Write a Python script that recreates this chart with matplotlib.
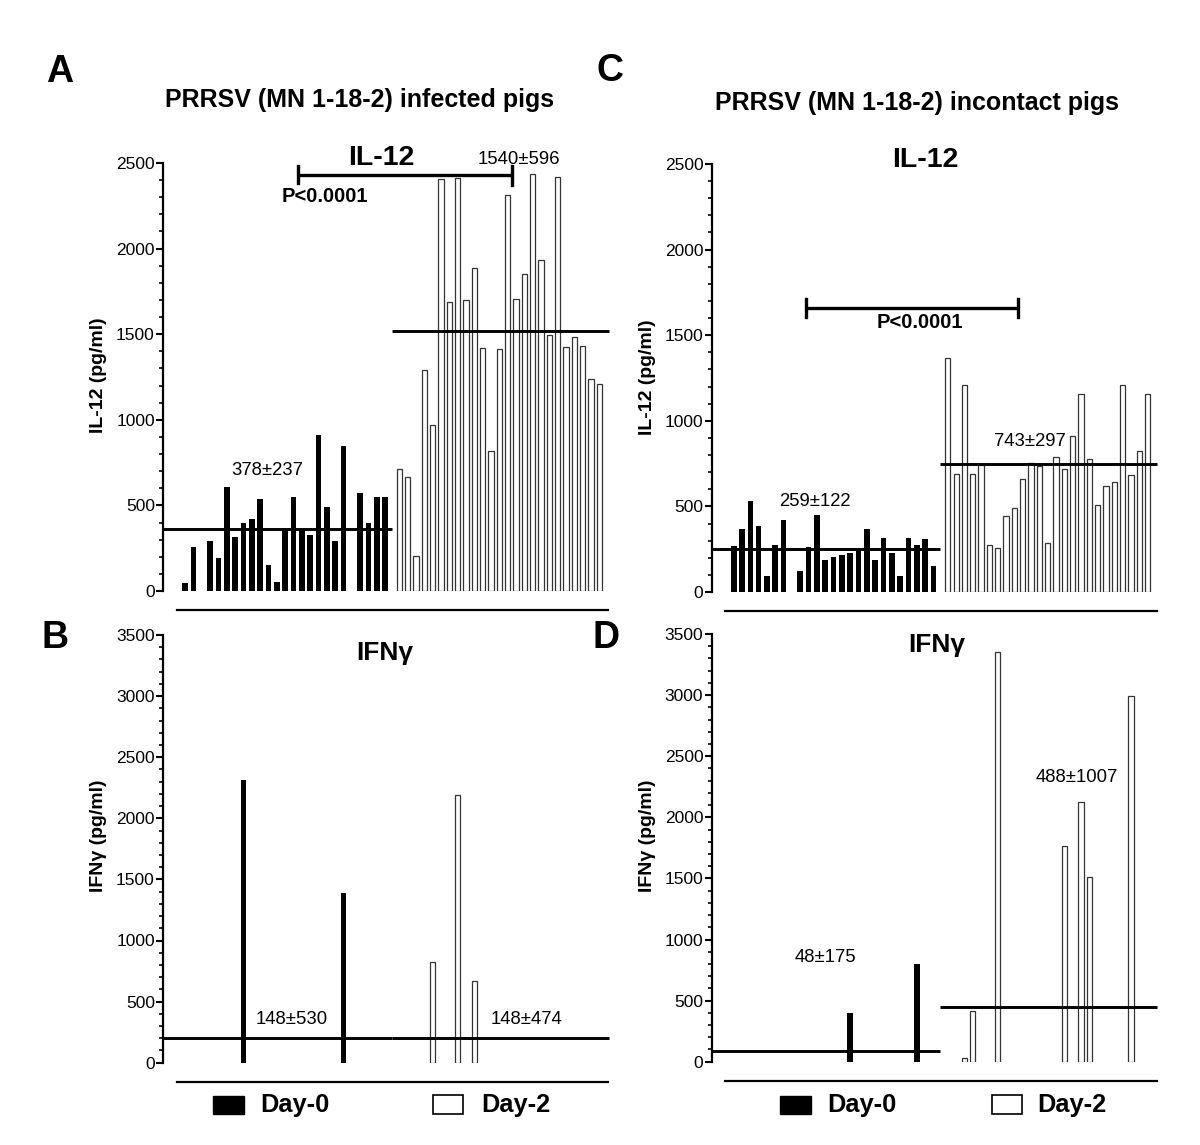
import numpy as np
import matplotlib
matplotlib.use("Agg")
import matplotlib.pyplot as plt
from matplotlib.ticker import MultipleLocator
from matplotlib.patches import Rectangle

plt.rcParams['font.family'] = ['Liberation Sans', 'DejaVu Sans']

# values (pg/ml), one entry per pig, 0 = no bar
il12_inf_d0 = [49, 259, 0, 294, 191, 610, 318, 399, 421, 536, 150, 51, 360,
               547, 360, 327, 912, 493, 294, 849, 0, 573, 396, 547, 547]
il12_inf_d2 = [711, 668, 205, 1292, 968, 2406, 1691, 2414, 1697, 1886, 1418, 816,
               1412, 2312, 1707, 1851, 2437, 1931, 1496, 2418, 1424, 1481, 1432,
               1239, 1208]
il12_inc_d0 = [269, 369, 533, 384, 92, 277, 421, 0, 123, 265, 449, 189, 203,
               215, 230, 248, 369, 185, 318, 230, 96, 314, 277, 310, 150]
il12_inc_d2 = [1364, 691, 1210, 687, 740, 273, 256, 445, 490, 658, 755, 736, 287,
               788, 716, 913, 1159, 779, 509, 622, 644, 1210, 681, 825, 1159]
ifn_inf_d0 = [0, 0, 0, 0, 0, 0, 0, 2313, 0, 0, 0, 0, 0, 0, 0, 0, 0, 0, 0,
              1386, 0, 0, 0, 0, 0]
ifn_inf_d2 = [0, 0, 0, 0, 827, 0, 0, 2190, 0, 671, 0, 0, 0, 0, 0, 0, 0, 0, 0,
              0, 0, 0, 0, 0, 0]
ifn_inc_d0 = [0, 0, 0, 0, 0, 0, 0, 0, 0, 0, 0, 0, 0, 0, 401, 0, 0, 0, 0, 0,
              0, 0, 796, 0, 0]
ifn_inc_d2 = [0, 0, 33, 415, 0, 0, 3350, 0, 0, 0, 0, 0, 0, 0, 1765, 0, 2127,
              1514, 0, 0, 0, 0, 2990, 0, 0]

# group means as drawn (horizontal lines) and their printed labels
means = {'A': (360, 1520), 'B': (200, 200), 'C': (250, 745), 'D': (90, 450)}
labels = {'A': ('378±237', '1540±596'), 'B': ('148±530', '148±474'),
          'C': ('259±122', '743±297'), 'D': ('48±175', '488±1007')}

W, H = 1200, 1145
fig = plt.figure(figsize=(12, 11.45), dpi=100)
fig.patch.set_facecolor('white')

SLOT = 8.33          # px per pig
XL, XR = -2.65, 51.2  # x limits in slot units
GAP = 1.7            # extra space between day-0 and day-2 groups


def fpos(x, y):
    return x / W, 1 - y / H


def panel(left_px, zero_px, top_px, ymax, d0, d2, mean):
    width = (XR - XL) * SLOT
    ax = fig.add_axes([left_px / W, 1 - zero_px / H, width / W, (zero_px - top_px) / H])
    ax.set_xlim(XL, XR)
    ax.set_ylim(0, ymax)
    x0 = np.arange(len(d0))
    x2 = len(d0) - 1 + GAP + np.arange(len(d2))
    d0 = np.array(d0, float)
    d2 = np.array(d2, float)
    m0 = d0 > 0
    m2 = d2 > 0
    ax.bar(x0[m0], d0[m0], width=0.68, color='black', linewidth=0)
    ax.bar(x2[m2], d2[m2], width=0.62, facecolor='white', edgecolor='#333333', linewidth=0.9)
    split = len(d0) - 1 + 0.8
    ax.hlines(mean[0], XL, split, color='black', lw=2.1, zorder=5)
    ax.hlines(mean[1], split, 50.85, color='black', lw=2.1, zorder=5)

    for s in ['top', 'right']:
        ax.spines[s].set_visible(False)
    ax.spines['left'].set_linewidth(1.6)
    ax.spines['left'].set_bounds(0, ymax)
    ax.spines['bottom'].set_position(('outward', 14))
    ax.spines['bottom'].set_bounds(-1.0, 50.8)
    ax.spines['bottom'].set_linewidth(1.6)
    ax.tick_params(axis='x', bottom=False, labelbottom=False)
    ax.yaxis.set_major_locator(MultipleLocator(500))
    ax.yaxis.set_minor_locator(MultipleLocator(100))
    ax.tick_params(axis='y', which='major', direction='out', length=5, width=1.5,
                   labelsize=12.5, pad=1)
    ax.tick_params(axis='y', which='minor', direction='out', length=3, width=1.2)
    ax.set_facecolor('none')
    return ax


# A
axA = panel(163.2, 591, 163, 2500, il12_inf_d0, il12_inf_d2, means['A'])
axA.plot([13.56, 39.2], [2432, 2432], color='black', lw=2.4, clip_on=False, solid_capstyle='butt')
axA.plot([13.56, 13.56], [2385, 2480], color='black', lw=2.4, clip_on=False)
axA.plot([39.2, 39.2], [2370, 2480], color='black', lw=2.4, clip_on=False)

# C
axC = panel(711.6, 592, 164, 2500, il12_inc_d0, il12_inc_d2, means['C'])
axC.plot([8.68, 34.1], [1657, 1657], color='black', lw=2.4, solid_capstyle='butt')
axC.plot([8.68, 8.68], [1604, 1710], color='black', lw=2.4)
axC.plot([34.1, 34.1], [1604, 1710], color='black', lw=2.4)

# B
axB = panel(163.2, 1062.7, 635, 3500, ifn_inf_d0, ifn_inf_d2, means['B'])
# D
axD = panel(711.6, 1061.7, 634, 3500, ifn_inc_d0, ifn_inc_d2, means['D'])


def txt(x, y, s, size, bold=False, **kw):
    fig.text(*fpos(x, y), s, fontsize=size, fontweight='bold' if bold else 'normal',
             ha=kw.pop('ha', 'center'), va=kw.pop('va', 'center'), **kw)


# panel letters
txt(60, 72, 'A', 27, True)
txt(55, 638, 'B', 27, True)
txt(610, 71, 'C', 27, True)
txt(606, 638, 'D', 27, True)

# titles
txt(360, 100, 'PRRSV (MN 1-18-2) infected pigs', 18, True)
txt(917, 103, 'PRRSV (MN 1-18-2) incontact pigs', 18, True)
txt(381, 158, 'IL-12', 20.5, True)
txt(925, 160, 'IL-12', 20.5, True)
txt(385, 653, 'IFNγ', 19, True)
txt(937, 645, 'IFNγ', 19, True)

# stats
txt(325, 196, 'P<0.0001', 14.5, True)
txt(920, 323, 'P<0.0001', 14.5, True)
txt(267, 470, labels['A'][0], 13.3)
txt(519, 160, labels['A'][1], 13.3)
txt(815, 502, labels['C'][0], 13.3)
txt(1030, 441, labels['C'][1], 13.3)
txt(292, 1019, labels['B'][0], 13.3)
txt(527, 1019, labels['B'][1], 13.3)
txt(825, 958, labels['D'][0], 13.3)
txt(1077, 778, labels['D'][1], 13.3)

# y labels
txt(98.5, 375, 'IL-12 (pg/ml)', 14, True, rotation=90)
txt(647.5, 377, 'IL-12 (pg/ml)', 14, True, rotation=90)
txt(98.5, 836, 'IFNγ (pg/ml)', 14, True, rotation=90)
txt(647.5, 836, 'IFNγ (pg/ml)', 14, True, rotation=90)

# legends under the bottom panels
for bx, wx in [(213, 433), (780, 992)]:
    fig.add_artist(Rectangle(fpos(bx, 1114), 31 / W, 18 / H, transform=fig.transFigure,
                             facecolor='black', edgecolor='black', lw=1))
    fig.add_artist(Rectangle(fpos(wx, 1114), 30 / W, 19 / H, transform=fig.transFigure,
                             facecolor='white', edgecolor='black', lw=1.2))
txt(260, 1105, 'Day-0', 18.3, True, ha='left')
txt(481, 1105, 'Day-2', 18.3, True, ha='left')
txt(827, 1105, 'Day-0', 18.3, True, ha='left')
txt(1037, 1105, 'Day-2', 18.3, True, ha='left')

fig.savefig('out.png', dpi=100, facecolor='white')
